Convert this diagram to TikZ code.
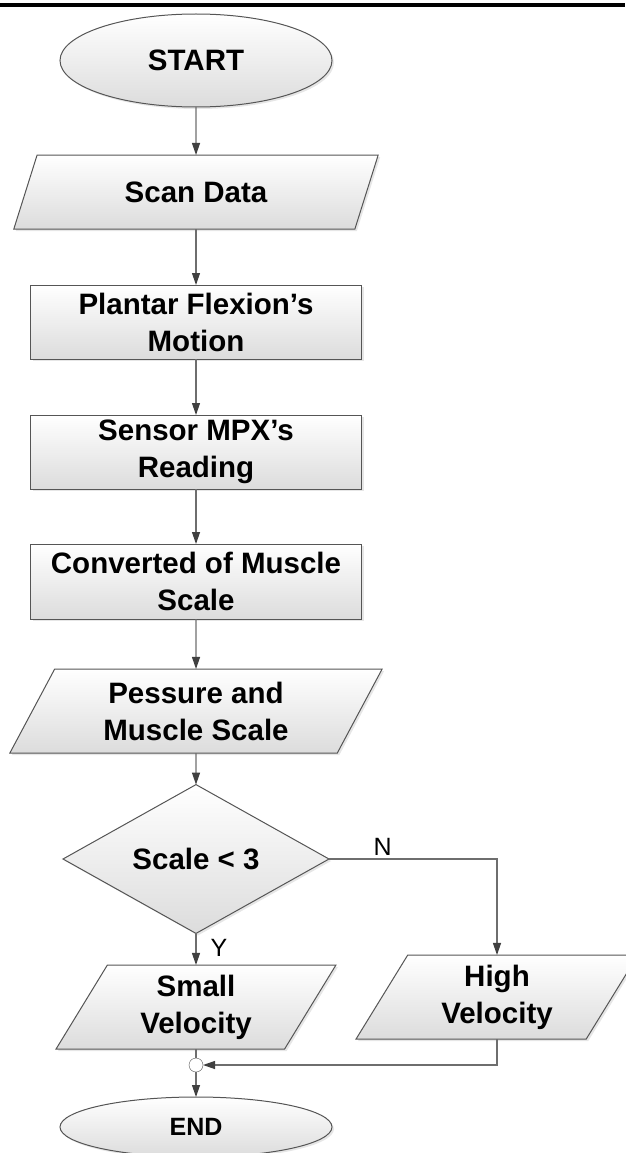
\documentclass[tikz,border=0pt]{standalone}
\usepackage{fontspec}
\setmainfont{Liberation Sans}
\usetikzlibrary{shapes.geometric,arrows.meta,shadows}

\definecolor{flowline}{RGB}{110,110,110}
\definecolor{flowtip}{RGB}{64,64,64}
\definecolor{flowborder}{RGB}{85,85,85}
\definecolor{flowfill}{RGB}{220,220,220}

\tikzset{
	box/.style={draw=flowborder, line width=1pt, top color=white, bottom color=flowfill,
		drop shadow={shadow xshift=2pt, shadow yshift=-2pt, opacity=0.2},
		font=\fontsize{29.5}{37}\selectfont\bfseries, align=center, inner sep=0pt, outer sep=0pt},
	terminal/.style={box, ellipse, minimum width=272pt},
	process/.style={box, rectangle, minimum width=331pt, minimum height=74pt},
	io/.style={box, trapezium, trapezium left angle=63.4, trapezium right angle=116.6, trapezium stretches=true},
	decision/.style={box, diamond, minimum width=266pt, minimum height=120pt},
	joint/.style={draw=flowborder, fill=white, circle, minimum size=14pt, inner sep=0pt, outer sep=0pt},
	flow/.style={draw=flowline, line width=1.2pt, -{Triangle[length=12pt,width=8pt,color=flowtip]}},
	yesno/.style={font=\fontsize{25}{30}\selectfont, inner sep=3pt}
}

\begin{document}
\begin{tikzpicture}[x=1pt, y=-1pt]
	\useasboundingbox (0,0) rectangle (625,1153);
	\draw[line width=4pt] (0,5) -- (625,5);

	\node[terminal, minimum height=93pt] (start) at (196,60.5) {START};
	\node[io, minimum width=365pt, minimum height=74pt] (scan) at (196,192) {Scan Data};
	\node[process] (plantar) at (196,322) {Plantar Flexion’s\\Motion};
	\node[process] (sensor) at (196,452) {Sensor MPX’s\\Reading};
	\node[process, minimum height=75pt] (convert) at (196,581.5) {Converted of Muscle\\Scale};
	\node[io, minimum width=373pt, minimum height=84pt] (pressure) at (196,711) {Pessure and\\Muscle Scale};
	\node[decision] (check) at (196,859) {Scale < 3};
	\node[io, minimum width=280pt, minimum height=84pt] (small) at (196,1007) {Small\\Velocity};
	\node[io, minimum width=282pt, minimum height=84pt] (high) at (497,997) {High\\Velocity};
	\node[joint] (merge) at (196,1065) {};
	\node[terminal, minimum height=60pt, font=\fontsize{25}{30}\selectfont\bfseries] (end) at (196,1127) {END};

	\draw[flow] (start) -- (scan);
	\draw[flow] (scan) -- (plantar);
	\draw[flow] (plantar) -- (sensor);
	\draw[flow] (sensor) -- (convert);
	\draw[flow] (convert) -- (pressure);
	\draw[flow] (pressure) -- (check);
	\draw[flow] (check) -| node[yesno, above, pos=0.16] {N} (high);
	\draw[flow] (check) -- node[yesno, right=11pt, pos=0.45] {Y} (small);
	\draw[flow, -] (small) -- (merge);
	\draw[flow] (high) |- (merge);
	\draw[flow] (merge) -- (end);
\end{tikzpicture}
\end{document}
